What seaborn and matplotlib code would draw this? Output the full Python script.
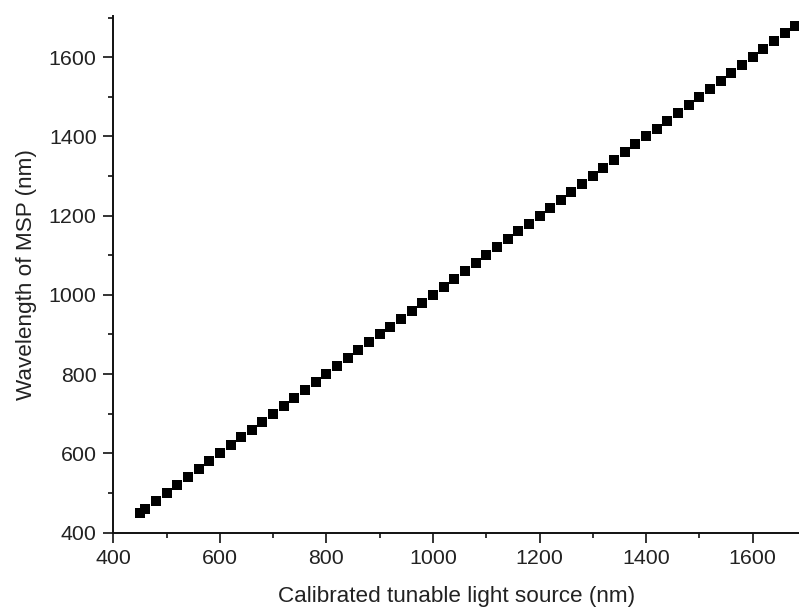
import matplotlib
matplotlib.use("Agg")
import matplotlib.pyplot as plt
import seaborn as sns
import pandas as pd
from matplotlib.ticker import MultipleLocator

source_nm = [450, 460, 480, 500, 520, 540, 560, 580, 600, 620, 640, 660, 680, 700,
             720, 740, 760, 780, 800, 820, 840, 860, 880, 900, 920, 940, 960, 980,
             1000, 1020, 1040, 1060, 1080, 1100, 1120, 1140, 1160, 1180, 1200, 1220,
             1240, 1260, 1280, 1300, 1320, 1340, 1360, 1380, 1400, 1420, 1440, 1460,
             1480, 1500, 1520, 1540, 1560, 1580, 1600, 1620, 1640, 1660, 1680]
msp_nm = [450, 460, 480, 500, 520, 540, 560, 580, 600, 620, 640, 660, 680, 700,
          720, 740, 760, 780, 800, 820, 840, 860, 880, 900, 920, 940, 960, 980,
          1000, 1020, 1040, 1060, 1080, 1100, 1120, 1140, 1160, 1180, 1200, 1220,
          1240, 1260, 1280, 1300, 1320, 1340, 1360, 1380, 1400, 1420, 1440, 1460,
          1480, 1500, 1520, 1540, 1560, 1580, 1600, 1620, 1640, 1660, 1680]
x_ticks = [400, 600, 800, 1000, 1200, 1400, 1600]
y_ticks = [400, 600, 800, 1000, 1200, 1400, 1600]

sns.set_style("ticks")
plt.rcParams['font.family'] = ['Liberation Sans', 'DejaVu Sans']

df = pd.DataFrame({"x": source_nm, "y": msp_nm})

fig = plt.figure(figsize=(7.99, 6.07), dpi=100)
ax = fig.add_axes([0.1418, 0.1227, 0.8582, 0.8509])

sns.scatterplot(data=df, x="x", y="y", marker="s", s=46, color="black",
                linewidth=0, ax=ax, clip_on=True)

ax.set_xlim(400, 1687)
ax.set_ylim(400, 1704)
ax.set_xticks(x_ticks)
ax.set_yticks(y_ticks)
ax.xaxis.set_minor_locator(MultipleLocator(100))
ax.yaxis.set_minor_locator(MultipleLocator(100))

sns.despine(ax=ax)
for s in ["left", "bottom"]:
    ax.spines[s].set_linewidth(1.4)
    ax.spines[s].set_color("#111111")

ax.tick_params(which="major", direction="out", length=7.5, width=1.2,
               colors="#111111", labelsize=15.4, labelcolor="#222222", pad=4.5)
ax.tick_params(which="minor", direction="out", length=3.8, width=1.2, colors="#111111")

ax.set_xlabel("Calibrated tunable light source (nm)", fontsize=16.2, color="#222222", labelpad=13)
ax.set_ylabel("Wavelength of MSP (nm)", fontsize=16.2, color="#222222", labelpad=8.5)

fig.savefig("out.png", dpi=100)
